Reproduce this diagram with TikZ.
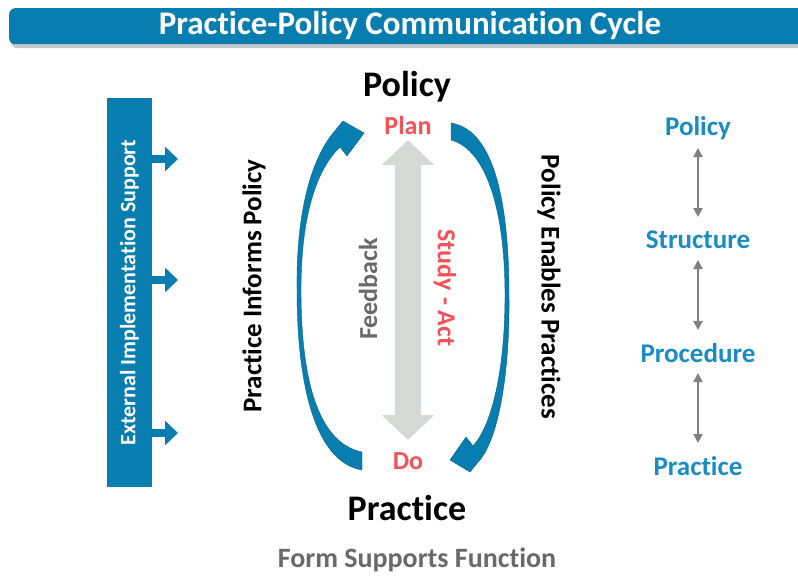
\documentclass[tikz,border=0pt]{standalone}
\usepackage{fontspec}
\setmainfont{Carlito}[Ligatures=NoCommon]
\usetikzlibrary{arrows.meta}
\definecolor{mblue}{RGB}{8,126,176}
\definecolor{dblue}{RGB}{4,100,140}
\definecolor{lblue}{RGB}{26,140,196}
\definecolor{mred}{RGB}{244,82,88}
\definecolor{fgrey}{RGB}{214,218,215}
\definecolor{tgrey}{RGB}{105,105,105}
\definecolor{agrey}{RGB}{128,128,128}
\definecolor{shgrey}{RGB}{200,200,200}
\begin{document}
\begin{tikzpicture}[x=1pt,y=-1pt,
  bigtxt/.style={font=\bfseries\fontsize{36}{40}\selectfont, inner sep=0pt},
  redtxt/.style={font=\bfseries\fontsize{26}{30}\selectfont, inner sep=0pt, text=mred},
  sidetxt/.style={font=\bfseries\fontsize{27}{30}\selectfont, inner sep=0pt},
  rtxt/.style={font=\bfseries\fontsize{27}{30}\selectfont, inner sep=0pt, text=lblue},
  dblarrow/.style={draw=agrey, line width=2.6pt, {Triangle[width=9pt,length=9pt]}-{Triangle[width=9pt,length=9pt]}},
  sidearrow/.style={draw=mblue, line width=8pt, -{Triangle[width=24pt,length=13pt]}},
  bigarrow/.style={draw=fgrey, line width=26pt, {Triangle[width=51pt,length=25pt]}-{Triangle[width=51pt,length=25pt]}},
  curvearrow/.style={fill=mblue, draw=dblue, line width=0.4pt}
]
\useasboundingbox (0,0) rectangle (798,576);
\clip (0,0) rectangle (798,576);

% title bar
\fill[shgrey, rounded corners=6pt] (11,11) rectangle (812,48);
\node[fill=mblue, rounded corners=6pt, minimum width=802pt, minimum height=36pt, inner sep=0pt, anchor=north west] (titlebar) at (9,8) {};
\node[font=\bfseries\fontsize{33}{36}\selectfont, text=white, inner sep=0pt] (title) at (410,26) {Practice-Policy Communication Cycle};

% central labels
\node[bigtxt] (policy) at (407,87) {Policy};
\node[bigtxt] (practice) at (407,508) {Practice};
\node[redtxt] (plan) at (408,125) {Plan};
\node[redtxt] (do) at (408,461) {Do};
\node[font=\bfseries\fontsize{28}{30}\selectfont, text=tgrey, inner sep=0pt] (form) at (417,560) {Form Supports Function};

% grey feedback arrow
\draw[bigarrow, shorten <=15pt, shorten >=21pt] (plan.center) -- (do.center);
\node[font=\bfseries\fontsize{26}{30}\selectfont, text=tgrey, rotate=90, inner sep=0pt] (feedback) at (368,289) {Feedback};
\node[redtxt, rotate=-90] (study) at (445,288) {Study - Act};

% left curved arrow (practice informs policy)
\path[curvearrow] (362,452)
  .. controls (318,443) and (301,380) .. (301,290)
  .. controls (301,212) and (318,168) .. (340,147)
  -- (347,156) -- (364,133) -- (343,121) -- (334,132)
  .. controls (312,158) and (296,210) .. (297,290)
  .. controls (297,385) and (315,462) .. (362,470) -- cycle;

% right curved arrow (policy enables practices)
\path[curvearrow] (451,140)
  .. controls (488,150) and (505,215) .. (505,295)
  .. controls (505,370) and (492,425) .. (473,446)
  -- (466,437) -- (450,460) -- (470,472) -- (479,461)
  .. controls (498,440) and (510,375) .. (509,295)
  .. controls (509,205) and (495,130) .. (451,123) -- cycle;

\node[sidetxt, rotate=90] (informs) at (254,286) {Practice Informs Policy};
\node[sidetxt, rotate=-90] (enables) at (549,287) {Policy Enables Practices};

% external implementation support bar
\node[fill=mblue, rotate=90, minimum width=389pt, minimum height=45pt, inner sep=0pt,
      font=\bfseries\fontsize{22}{26}\selectfont, text=white] (bar) at (129.5,292.5) {External Implementation Support};
\coordinate (t1) at (178,159);
\coordinate (t2) at (178,280);
\coordinate (t3) at (178,433);
\draw[sidearrow] (bar.south |- t1) -- (t1);
\draw[sidearrow] (bar.south |- t2) -- (t2);
\draw[sidearrow] (bar.south |- t3) -- (t3);

% right column
\node[rtxt] (rpol) at (698,128) {Policy};
\node[rtxt] (rstr) at (698,240) {Structure};
\node[rtxt] (rpro) at (698,353) {Procedure};
\node[rtxt] (rpra) at (698,466) {Practice};
\draw[dblarrow, shorten <=20pt, shorten >=23pt] (rpol.center) -- (rstr.center);
\draw[dblarrow, shorten <=20pt, shorten >=23pt] (rstr.center) -- (rpro.center);
\draw[dblarrow, shorten <=20pt, shorten >=23pt] (rpro.center) -- (rpra.center);
\end{tikzpicture}
\end{document}
